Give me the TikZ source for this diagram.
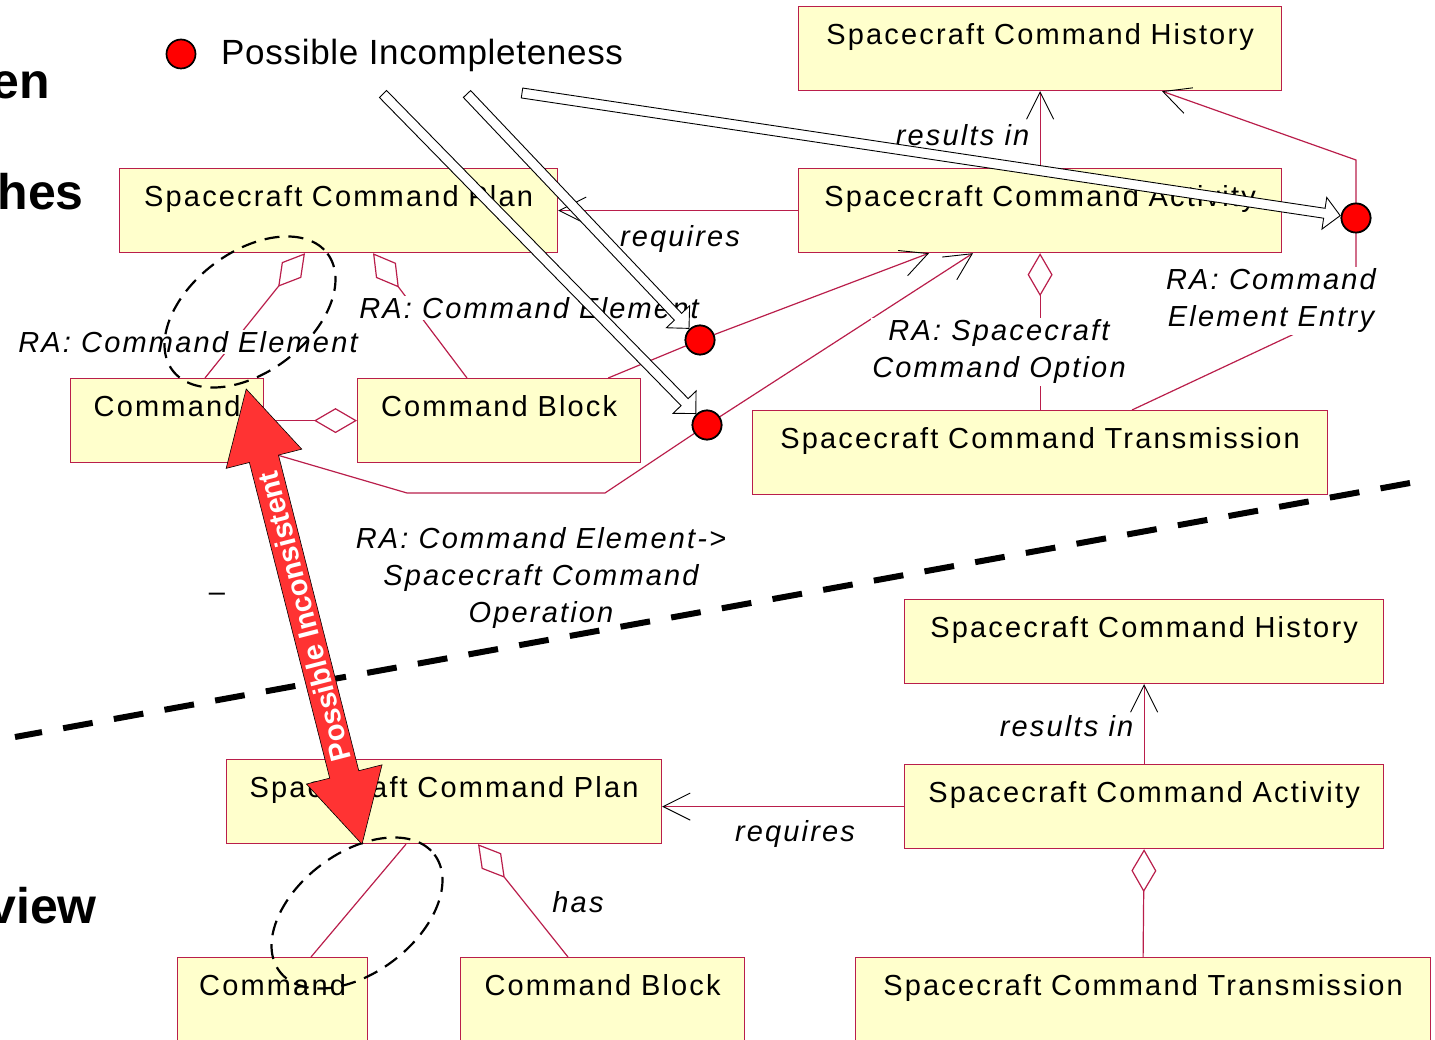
\documentclass[tikz,border=0pt]{standalone}
\usepackage{fontspec}
\setmainfont{Liberation Sans}
\newfontfamily\umlfont{Liberation Sans}[LetterSpace=7.5]
\newfontfamily\legendfont{Liberation Sans}[LetterSpace=2]
\usetikzlibrary{arrows.meta,calc}

\definecolor{umlline}{RGB}{185,30,75}
\definecolor{umlfill}{RGB}{255,255,204}
\definecolor{flagred}{RGB}{255,51,51}

\tikzset{
  umlbox/.style={draw=umlline, line width=1.2pt, fill=umlfill, inner sep=0pt,
    text width=#1, align=center, text height=37.5pt, text depth=46.5pt,
    anchor=north west, font={\umlfont\fontsize{29}{35}\selectfont}},
  conn/.style={draw=umlline, line width=1.2pt},
  openhead/.style={-{Straight Barb[length=27pt,width=27pt,color=black,line width=0.9pt]}},
  aggr/.style={{Diamond[open,length=43pt,width=25pt]}-},
  role/.style={font={\umlfont\itshape\fontsize{29}{37}\selectfont}, align=center, inner sep=1.5pt},
  rolebg/.style={role, fill=white},
  flagdot/.style={circle, fill=red, draw=black, line width=1.7pt, minimum size=29pt, inner sep=0pt},
  hollowarr/.style={draw=black, fill=white, line width=0.9pt, line join=miter},
  sidetext/.style={font={\bfseries\fontsize{50}{55}\selectfont}, inner sep=0pt, anchor=base east},
  ring/.style={draw=black, line width=2.2pt, dash pattern=on 15pt off 9pt},
  separator/.style={draw=black, line width=6pt, dash pattern=on 30pt off 21.5pt},
  flagarrow/.style={fill=flagred, draw=black, line width=0.6pt, line join=miter}
}

% hollow "pointer" arrow from a free start point to a flag dot
\newcommand\hollowarrow[2]{%
  \coordinate (ha-tip) at ($(#2)!16pt!(#1)$);
  \coordinate (ha-neck) at ($(ha-tip)!16pt!(#1)$);
  \draw[hollowarr] ($(#1)!5pt!90:(ha-tip)$) -- ($(ha-neck)!5pt!-90:(#1)$)
    -- ($(ha-neck)!16pt!-90:(#1)$) -- (ha-tip) -- ($(ha-neck)!16pt!90:(#1)$)
    -- ($(ha-neck)!5pt!90:(#1)$) -- ($(#1)!5pt!-90:(ha-tip)$) -- cycle;}

\begin{document}
\begin{tikzpicture}[x=1pt,y=-1pt]
\useasboundingbox (0,0) rectangle (1435,1040);
\clip (0,0) rectangle (1435,1040);

% cut-off slide captions on the left
\node[sidetext] (capa) at (50,99) {en};
\node[sidetext] (capb) at (84,210) {hes};
\node[sidetext] (capc) at (97,923) {view};
\node[font={\fontsize{29}{30}\selectfont}, inner sep=0pt] (stray) at (217,597) {--};

% ---------- upper model ----------
\node[umlbox=483pt] (hist1)  at (798,6)   {Spacecraft Command History};
\node[umlbox=483pt] (act1)   at (798,168) {Spacecraft Command Activity};
\node[umlbox=438pt] (plan1)  at (119,168) {Spacecraft Command Plan};
\node[umlbox=193pt] (cmd1)   at (70,378)  {Command};
\node[umlbox=283pt] (blk1)   at (357,378) {Command Block};
\node[umlbox=575pt] (trans1) at (752,410) {Spacecraft Command Transmission};

% ---------- lower model ----------
\node[umlbox=479pt] (hist2)  at (904,599) {Spacecraft Command History};
\node[umlbox=479pt] (act2)   at (904,764) {Spacecraft Command Activity};
\node[umlbox=435pt] (plan2)  at (226,759) {Spacecraft Command Plan};
\node[umlbox=190pt] (cmd2)   at (177,957) {Command};
\node[umlbox=284pt] (blk2)   at (460,957) {Command Block};
\node[umlbox=575pt] (trans2) at (855,957) {Spacecraft Command Transmission};

% dividing line between the two views
\coordinate (sepR) at (1410,483);
\coordinate (sepL) at (15,737);
\draw[separator] (sepR) -- (sepL);

% flag dots
\node[flagdot] (dot1) at (700,340) {};
\node[flagdot] (dot2) at (707,425) {};
\node[flagdot] (dot3) at (1356,218) {};

% upper connectors
\draw[conn, openhead] (act1.north) -- (hist1.south);
\draw[conn, openhead] (act1.west) -- (plan1.east);
\draw[conn, aggr] ($(plan1.south west)+(186,0)$) -- ($(cmd1.north west)+(135,0)$);
\draw[conn, aggr] ($(plan1.south west)+(254,0)$) -- ($(blk1.north west)+(110,0)$);
\draw[conn, aggr] (blk1.west) -- (cmd1.east);
\draw[conn, openhead] ($(blk1.north east)+(-33,0)$) -- (dot1) -- ($(act1.south west)+(131,0)$);
\coordinate (bendA) at (407,493);
\coordinate (bendB) at (605,493);
\draw[conn, openhead] ($(cmd1.south east)+(0,-12)$) -- (bendA) -- (bendB) -- (dot2) -- ($(act1.south west)+(175,0)$);
\draw[conn, aggr] (act1.south) -- (trans1.north);
\coordinate (entryCorner) at (1356,305);
\coordinate (entryTop) at (1356,160);
\draw[conn, openhead] ($(trans1.north west)+(380,0)$) -- (entryCorner) -- (dot3) -- (entryTop) -- ($(hist1.south west)+(364,0)$);

% lower connectors
\draw[conn, openhead] (act2.north) -- (hist2.south);
\draw[conn, openhead] (act2.west) -- (act2.west -| plan2.east);
\draw[conn] ($(plan2.south west)+(180,0)$) -- ($(cmd2.north west)+(134,0)$);
\draw[conn, aggr] ($(plan2.south west)+(252,0)$) -- ($(blk2.north west)+(108,0)$);
\draw[conn, aggr] (act2.south) -- (trans2.north);

% association labels
\node[role, anchor=east] (lblres1) at (1031,135) {results in};
\node[role] (lblreq1) at (680,239) {requires};
\node[rolebg] (lblce1) at (188,342) {RA: Command Element};
\node[rolebg] (lblce2) at (529,308) {RA: Command Element};
\node[rolebg] (lblopt) at (999,352) {RA: Spacecraft\\Command Option};
\node[rolebg] (lblentry) at (1271,301) {RA: Command\\Element Entry};
\node[role] (lbloper) at (541,578) {RA: Command Element->\\Spacecraft Command\\Operation};
\node[role, anchor=east] (lblres2) at (1135,726) {results in};
\node[role] (lblreq2) at (795,834) {requires};
\node[role] (lblhas) at (578,902) {has};

% redraw dots above the lines
\node[flagdot] at (dot1) {};
\node[flagdot] at (dot2) {};
\node[flagdot] at (dot3) {};

% dashed rings around the Plan/Command associations
\draw[ring, rotate around={37:(250,312)}] (250,312) ellipse [x radius=97, y radius=60];
\draw[ring, rotate around={37:(357,913)}] (357,913) ellipse [x radius=97, y radius=60];

% double-headed "Possible Inconsistent" arrow
\coordinate (ptop) at ($(cmd1.north east)+(-18,11)$);
\coordinate (pbot) at ($(plan2.south west)+(136,0)$);
\coordinate (pn1) at ($(ptop)!72pt!(pbot)$);
\coordinate (pn2) at ($(pbot)!72pt!(ptop)$);
\draw[flagarrow] (ptop) -- ($(pn1)!39pt!90:(pbot)$) -- ($(pn1)!15pt!90:(pbot)$)
  -- ($(pn2)!15pt!-90:(ptop)$) -- ($(pn2)!39pt!-90:(ptop)$) -- (pbot)
  -- ($(pn2)!39pt!90:(ptop)$) -- ($(pn2)!15pt!90:(ptop)$)
  -- ($(pn1)!15pt!-90:(pbot)$) -- ($(pn1)!39pt!-90:(pbot)$) -- cycle;
\node[font={\bfseries\fontsize{29}{30}\selectfont}, text=white, rotate=104.45, inner sep=0pt]
  (pitext) at ($(ptop)!0.5!(pbot)$) {Possible Inconsistent};

% hollow pointer arrows to the flag dots
\coordinate (srcA) at (467,94);
\coordinate (srcB) at (383,94);
\coordinate (srcC) at (522,93);
\hollowarrow{srcB}{dot2}
\hollowarrow{srcA}{dot1}
\hollowarrow{srcC}{dot3}

% legend
\node[flagdot] (legdot) at (181,54) {};
\node[font={\legendfont\fontsize{35}{40}\selectfont}, anchor=base west, inner sep=0pt] (legtext) at (221,65) {Possible Incompleteness};
\end{tikzpicture}
\end{document}
